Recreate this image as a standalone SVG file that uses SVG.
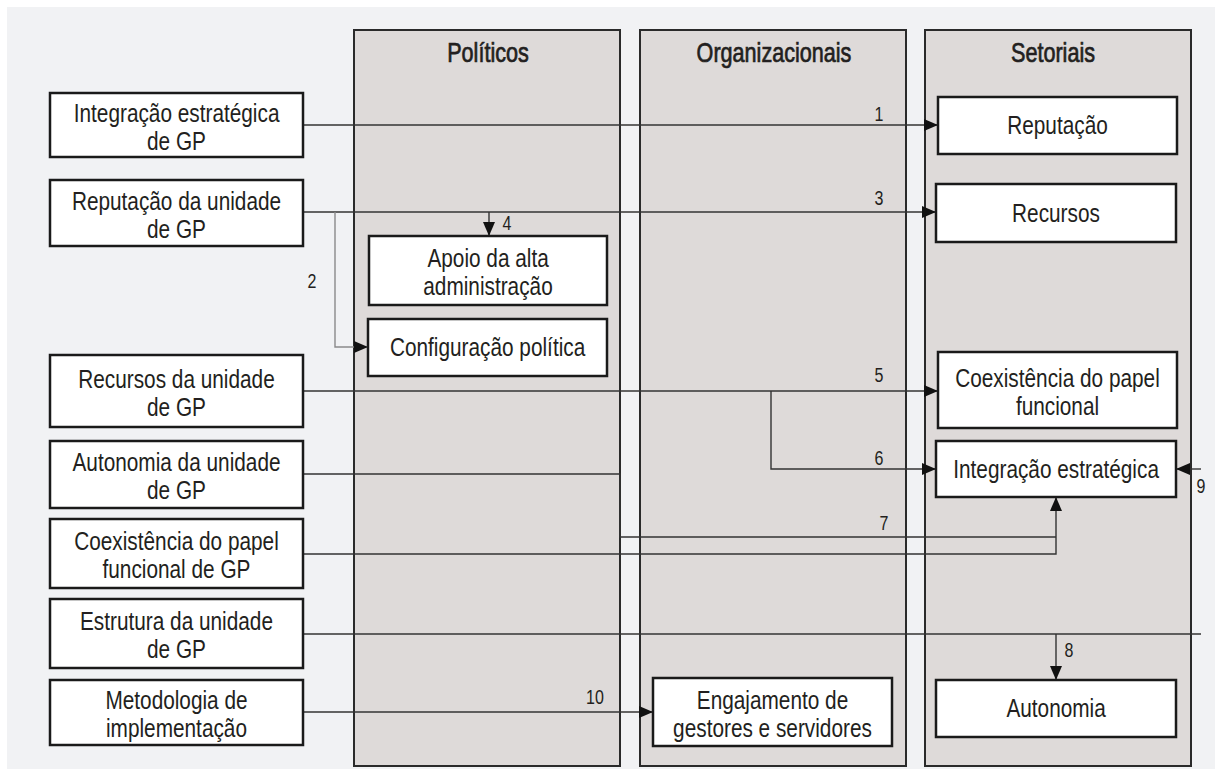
<svg xmlns="http://www.w3.org/2000/svg" width="1215" height="769" viewBox="0 0 1215 769">
<defs>
<style>
.bg{fill:#f1f2f4}
.panel{fill:#dedad9;stroke:#2a2a2a;stroke-width:2}
.box{fill:#ffffff;stroke:#1a1a1a;stroke-width:2.5}
text{font-family:"Liberation Sans",Arial,sans-serif;fill:#231f20;transform-box:fill-box;transform-origin:center;transform:scaleX(0.8)}
.t{font-size:26px;text-anchor:middle}
.h{font-size:27px;text-anchor:middle;stroke:#231f20;stroke-width:0.7}
.n{font-size:20px;text-anchor:middle}
.c{fill:none;stroke:#333;stroke-width:1.4}
.g{fill:none;stroke:#8a8a8a;stroke-width:1.4}
</style>
<marker id="ah" viewBox="0 0 14 12" refX="14" refY="6" markerWidth="14" markerHeight="12" markerUnits="userSpaceOnUse" orient="auto">
<path d="M0,0 L14,6 L0,12 Z" fill="#111"/>
</marker>
</defs>
<rect x="0" y="0" width="1215" height="769" fill="#ffffff"/>
<rect class="bg" x="7" y="7" width="1208" height="762"/>

<g id="panel-politicos">
<rect class="panel" x="354" y="30" width="266" height="736"/>
<text class="h" x="488" y="62">Políticos</text>
</g>
<g id="panel-organizacionais">
<rect class="panel" x="640" y="30" width="266" height="736"/>
<text class="h" x="774" y="62">Organizacionais</text>
</g>
<g id="panel-setoriais">
<rect class="panel" x="925" y="30" width="266" height="736"/>
<text class="h" x="1053" y="62">Setoriais</text>
</g>

<g id="connectors">
<path class="c" d="M303,125 H938" marker-end="url(#ah)"/>
<path class="c" d="M303,212 H936" marker-end="url(#ah)"/>
<path class="c" d="M489,212 V236" marker-end="url(#ah)"/>
<path class="g" d="M335,212 V347 H368" marker-end="url(#ah)"/>
<path class="c" d="M303,391 H938" marker-end="url(#ah)"/>
<path class="c" d="M771,391 V469 H936" marker-end="url(#ah)"/>
<path class="c" d="M303,474 H620 V537 H1056"/>
<path class="c" d="M303,554 H1056 V497" marker-end="url(#ah)"/>
<path class="c" d="M303,634 H1201"/>
<path class="c" d="M1056,634 V680" marker-end="url(#ah)"/>
<path class="c" d="M1201,469 H1176" marker-end="url(#ah)"/>
<path class="c" d="M303,712 H653" marker-end="url(#ah)"/>
<text class="n" x="879" y="121">1</text>
<text class="n" x="312" y="288">2</text>
<text class="n" x="879" y="205">3</text>
<text class="n" x="507" y="230">4</text>
<text class="n" x="879" y="382">5</text>
<text class="n" x="879" y="465">6</text>
<text class="n" x="884" y="530">7</text>
<text class="n" x="1069" y="657">8</text>
<text class="n" x="1201" y="493">9</text>
<text class="n" x="595" y="704">10</text>
</g>

<g id="n-integracao-gp">
<rect class="box" x="50" y="93" width="253" height="64"/>
<text class="t" x="176.5" y="122">Integração estratégica</text>
<text class="t" x="176.5" y="150">de GP</text>
</g>
<g id="n-reputacao-gp">
<rect class="box" x="50" y="180" width="253" height="66"/>
<text class="t" x="176.5" y="210">Reputação da unidade</text>
<text class="t" x="176.5" y="238">de GP</text>
</g>
<g id="n-recursos-gp">
<rect class="box" x="50" y="355" width="253" height="72"/>
<text class="t" x="176.5" y="388">Recursos da unidade</text>
<text class="t" x="176.5" y="416">de GP</text>
</g>
<g id="n-autonomia-gp">
<rect class="box" x="50" y="441" width="253" height="67"/>
<text class="t" x="176.5" y="471">Autonomia da unidade</text>
<text class="t" x="176.5" y="499">de GP</text>
</g>
<g id="n-coexistencia-gp">
<rect class="box" x="50" y="519" width="253" height="69"/>
<text class="t" x="176.5" y="550">Coexistência do papel</text>
<text class="t" x="176.5" y="578">funcional de GP</text>
</g>
<g id="n-estrutura-gp">
<rect class="box" x="50" y="599" width="253" height="69"/>
<text class="t" x="176.5" y="630">Estrutura da unidade</text>
<text class="t" x="176.5" y="658">de GP</text>
</g>
<g id="n-metodologia">
<rect class="box" x="50" y="680" width="253" height="65"/>
<text class="t" x="176.5" y="709">Metodologia de</text>
<text class="t" x="176.5" y="737">implementação</text>
</g>

<g id="n-apoio">
<rect class="box" x="369" y="236" width="238" height="69"/>
<text class="t" x="488" y="267">Apoio da alta</text>
<text class="t" x="488" y="295">administração</text>
</g>
<g id="n-configuracao">
<rect class="box" x="368" y="319" width="239" height="57"/>
<text class="t" x="487.5" y="356">Configuração política</text>
</g>
<g id="n-engajamento">
<rect class="box" x="653" y="678" width="239" height="68"/>
<text class="t" x="772.5" y="709">Engajamento de</text>
<text class="t" x="772.5" y="737">gestores e servidores</text>
</g>

<g id="n-reputacao">
<rect class="box" x="938" y="97" width="239" height="57"/>
<text class="t" x="1057.5" y="134">Reputação</text>
</g>
<g id="n-recursos">
<rect class="box" x="936" y="184" width="240" height="58"/>
<text class="t" x="1056" y="222">Recursos</text>
</g>
<g id="n-coexistencia">
<rect class="box" x="938" y="352" width="239" height="76"/>
<text class="t" x="1057.5" y="387">Coexistência do papel</text>
<text class="t" x="1057.5" y="415">funcional</text>
</g>
<g id="n-integracao">
<rect class="box" x="936" y="441" width="240" height="56"/>
<text class="t" x="1056" y="478">Integração estratégica</text>
</g>
<g id="n-autonomia">
<rect class="box" x="936" y="680" width="240" height="57"/>
<text class="t" x="1056" y="717">Autonomia</text>
</g>
</svg>
